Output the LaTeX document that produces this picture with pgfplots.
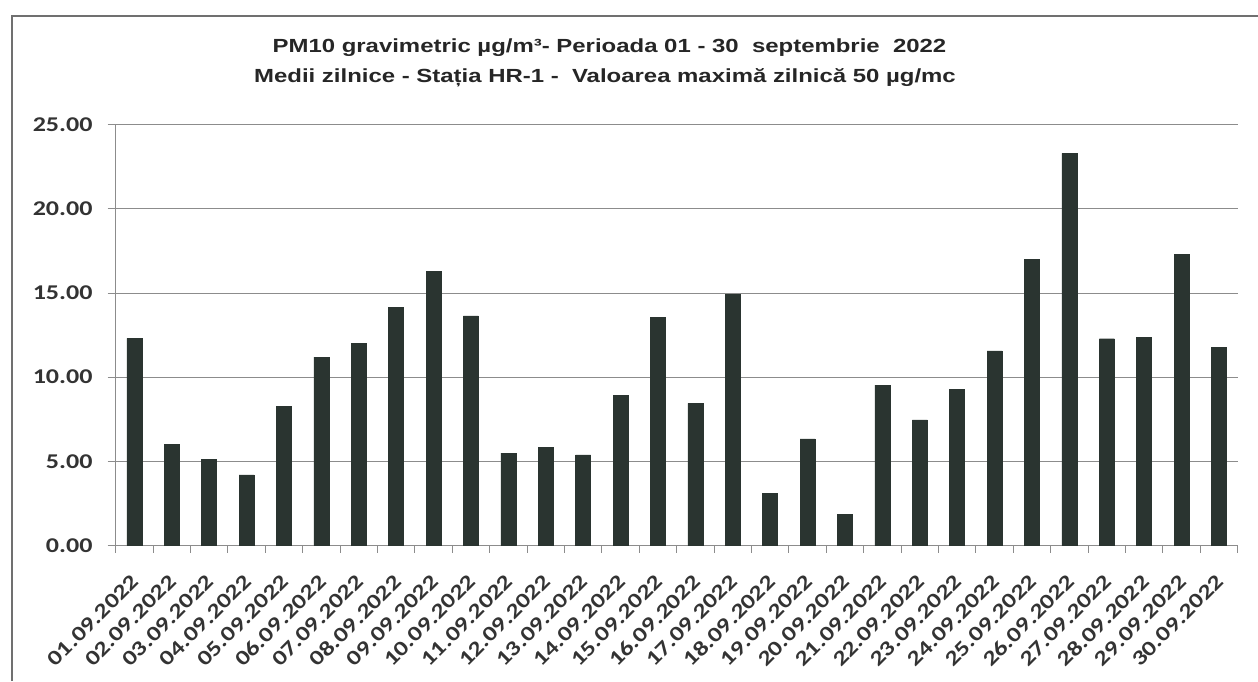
\documentclass[border=0pt]{standalone}
\usepackage{pgfplots}
\pgfplotsset{compat=1.18}
\usepackage{pgfplotstable}
\usepackage{fontspec}
\newfontfamily\titlefont[FakeStretch=1.26]{Liberation Sans}
\newfontfamily\tickfont[FakeStretch=1.24]{Carlito}
\definecolor{barcol}{RGB}{42,52,48}
\definecolor{gridcol}{RGB}{140,140,140}

% PM10 daily means, September 2022
\pgfplotstableread{
day val
1  12.30
2  6.02
3  5.12
4  4.19
5  8.25
6  11.18
7  12.00
8  14.15
9  16.27
10 13.64
11 5.49
12 5.82
13 5.38
14 8.90
15 13.56
16 8.44
17 14.93
18 3.08
19 6.33
20 1.83
21 9.53
22 7.46
23 9.27
24 11.56
25 16.99
26 23.29
27 12.28
28 12.38
29 17.27
30 11.78
}\pmdata

\begin{document}
\begin{tikzpicture}[x=1pt,y=1pt]
\useasboundingbox (0,0) rectangle (1258,681);
\draw[gridcol!80!black, line width=1.2pt] (12,0) -- (12,665) -- (1258,665);
\node[font=\titlefont\bfseries\fontsize{19}{23}\selectfont, text=black!85] at (609.5,633)
  {PM10 gravimetric µg/m³- Perioada 01 - 30 \ septembrie \ 2022};
\node[font=\titlefont\bfseries\fontsize{19}{23}\selectfont, text=black!85] at (605,603)
  {Medii zilnice - Stația HR-1 - \ Valoarea maximă zilnică 50 µg/mc};
\begin{axis}[
  at={(115.7pt,135.5pt)}, anchor=south west, scale only axis,
  width=1122pt, height=421pt,
  ybar, bar width=15pt,
  xmin=0.5, xmax=30.5, ymin=0, ymax=25,
  axis x line*=bottom, axis y line*=left,
  axis line style={gridcol, line width=0.8pt},
  ytick={0,5,...,25},
  yticklabels={0.00,5.00,10.00,15.00,20.00,25.00},
  ymajorgrids, major grid style={gridcol, line width=0.8pt},
  xtick={1,...,30},
  xticklabels={01.09.2022,02.09.2022,03.09.2022,04.09.2022,05.09.2022,06.09.2022,07.09.2022,08.09.2022,09.09.2022,10.09.2022,11.09.2022,12.09.2022,13.09.2022,14.09.2022,15.09.2022,16.09.2022,17.09.2022,18.09.2022,19.09.2022,20.09.2022,21.09.2022,22.09.2022,23.09.2022,24.09.2022,25.09.2022,26.09.2022,27.09.2022,28.09.2022,29.09.2022,30.09.2022},
  minor xtick={0.5,1.5,...,30.5},
  major x tick style={draw=none},
  minor x tick style={gridcol, line width=0.8pt},
  y tick style={gridcol, line width=0.8pt},
  tick align=outside,
  major tick length=8pt, minor tick length=7pt,
  yticklabel style={font=\tickfont\bfseries\fontsize{21}{24}\selectfont, text=black!80, inner sep=2pt, xshift=-13pt},
  xticklabel style={font=\tickfont\bfseries\fontsize{21}{24}\selectfont, text=black!80, inner sep=1pt, xshift=-4pt, yshift=-18pt, rotate=45, anchor=north east},
]
\addplot[fill=barcol, draw=barcol] table[x=day, y=val] {\pmdata};
\end{axis}
\end{tikzpicture}
\end{document}
